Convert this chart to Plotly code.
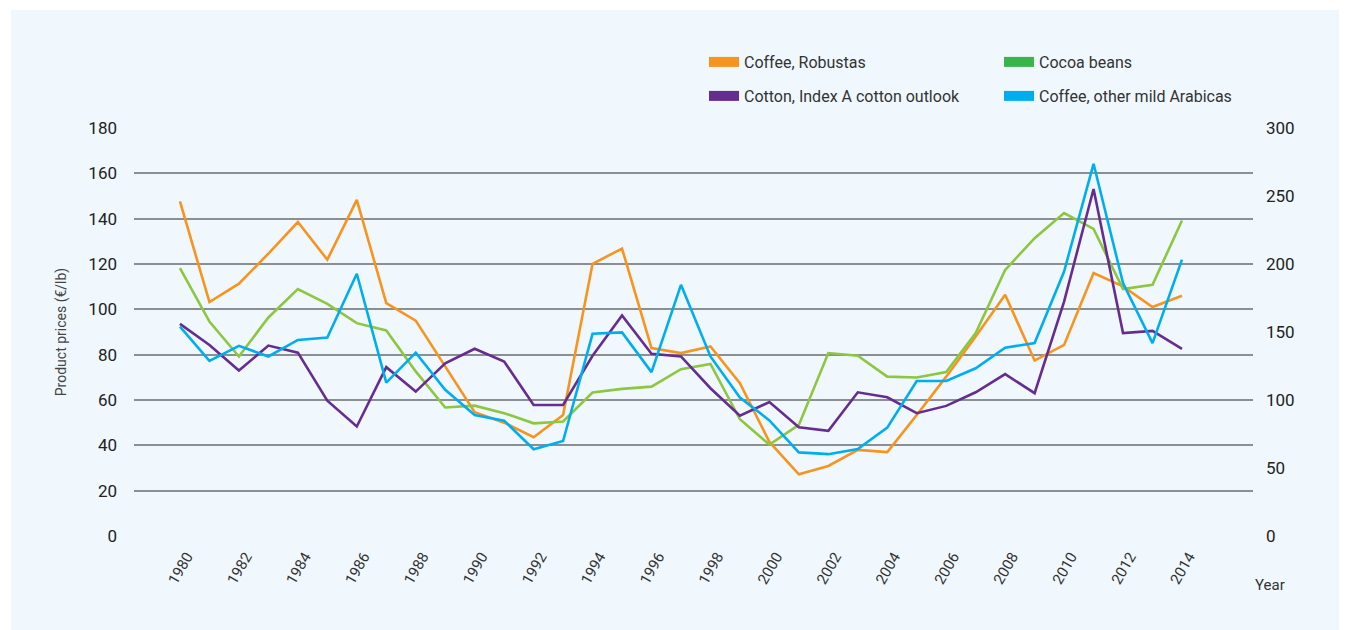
import plotly.graph_objects as go

years = list(range(1980, 2015))
tick_years = list(range(1980, 2015, 2))

robustas = [147.6, 103.2, 111.3, 124.6, 138.5, 121.9, 148.3, 102.7, 95.0, 75.0,
            54.6, 50.0, 43.6, 53.4, 120.1, 126.8, 82.9, 80.7, 83.6, 67.4,
            41.5, 27.2, 30.9, 38.0, 37.0, 53.4, 70.3, 88.0, 106.4, 77.4,
            84.3, 116.0, 110.1, 101.0, 106.0]
cocoa = [118.2, 94.6, 79.2, 96.4, 108.9, 102.4, 93.9, 90.7, 72.6, 56.7,
         57.5, 54.2, 49.7, 50.5, 63.3, 64.9, 65.9, 73.6, 75.9, 51.5,
         40.3, 49.0, 80.7, 79.5, 70.3, 69.9, 72.3, 89.5, 117.4, 131.4,
         142.5, 135.5, 108.9, 110.8, 139.2]
cotton = [93.6, 84.3, 73.0, 84.0, 80.9, 59.7, 48.3, 74.5, 63.7, 76.2,
          82.6, 77.0, 57.8, 57.8, 79.5, 97.3, 80.4, 79.2, 65.2, 53.1,
          59.1, 48.0, 46.4, 63.4, 61.2, 54.2, 57.4, 63.4, 71.4, 63.0,
          103.4, 153.1, 89.5, 90.5, 82.6]
arabicas = [92.4, 77.3, 83.9, 79.2, 86.5, 87.6, 115.7, 67.7, 80.9, 64.5,
            53.4, 50.9, 38.3, 41.9, 89.2, 89.8, 72.3, 110.8, 79.2, 61.1,
            51.0, 36.9, 36.1, 38.4, 47.8, 68.4, 68.4, 74.0, 83.1, 85.1,
            116.7, 164.2, 111.6, 85.1, 121.9]

left_ticks = list(range(0, 181, 20))
right_ticks = list(range(0, 301, 50))

# name, values, line colour, legend swatch colour, legend row
series = [
    ("Coffee, Robustas", robustas, "#F7941D", "#F7941D", "legend"),
    ("Cocoa beans", cocoa, "#8DC63F", "#3AB54A", "legend"),
    ("Cotton, Index A cotton outlook", cotton, "#662D91", "#662D91", "legend2"),
    ("Coffee, other mild Arabicas", arabicas, "#00AEEF", "#00AEEF", "legend2"),
]

FONT = "Roboto"
BG = "#F0F8FD"
L, R, T, B = 126, 102, 120, 102
PW, PH = 1347 - L - R, 630 - T - B

fig = go.Figure()
for name, vals, lc, sc, lg in series:
    fig.add_trace(go.Scatter(x=years, y=vals, mode="lines", name=name,
                             line=dict(color=lc, width=2.6),
                             showlegend=False, hoverinfo="x+y+name"))
# legend swatches (rectangular)
for name, vals, lc, sc, lg in series:
    fig.add_trace(go.Scatter(x=[None], y=[None], mode="lines", name=name,
                             line=dict(color=sc, width=11),
                             showlegend=True, legend=lg))
# dummy anchor so yaxis2 is rendered
fig.add_trace(go.Scatter(x=[None], y=[None], yaxis="y2", showlegend=False, hoverinfo="skip"))

leg_common = dict(orientation="h", x=(696 - L) / PW, xanchor="left", yanchor="middle",
                  yref="container", entrywidth=250, entrywidthmode="pixels",
                  font=dict(family=FONT, size=16, color="#333"),
                  bgcolor="rgba(0,0,0,0)", itemwidth=30)

fig.update_layout(
    width=1347, height=630,
    paper_bgcolor=BG,
    plot_bgcolor=BG,
    margin=dict(l=L, r=R, t=T, b=B, autoexpand=False),
    font=dict(family=FONT, color="#222"),
    showlegend=True,
    legend=dict(leg_common, y=1 - 54 / 630),
    legend2=dict(leg_common, y=1 - 88 / 630),
    xaxis=dict(range=[1978.44, 2016.41], tickvals=tick_years,
               ticktext=[str(y) for y in tick_years], tickangle=-60,
               showgrid=False, zeroline=False, showline=False,
               tickfont=dict(family=FONT, size=15, color="#333"),
               ticks="", ticklabelstandoff=8, ticklabelshift=7),
    yaxis=dict(range=[0, 180], tickvals=left_ticks, showgrid=True,
               gridcolor="#8A8F93", gridwidth=1.5, zeroline=False, showline=False,
               tickfont=dict(family=FONT, size=17, color="#222"),
               ticks="", ticklabelstandoff=16,
               title=dict(text="Product prices (€/lb)", standoff=18,
                          font=dict(family=FONT, size=14, color="#444"))),
    yaxis2=dict(range=[0, 300], tickvals=right_ticks, overlaying="y", side="right",
                showgrid=False, zeroline=False, showline=False,
                tickfont=dict(family=FONT, size=17, color="#222"),
                ticks="", ticklabelstandoff=12),
    shapes=[
        dict(type="rect", xref="paper", yref="paper", layer="below",
             x0=-L / PW, x1=1 + R / PW, y0=(630 - B - 2) / PH, y1=(630 - B) / PH,
             fillcolor="white", line=dict(width=0)),
        dict(type="rect", xref="paper", yref="paper", layer="below",
             x0=-L / PW, x1=(3 - L) / PW, y0=-B / PH, y1=(630 - B) / PH,
             fillcolor="white", line=dict(width=0)),
    ],
    annotations=[dict(text="Year", xref="paper", yref="paper", x=(1262 - L) / PW,
                      y=(630 - B - 577) / PH, xanchor="center", yanchor="middle", showarrow=False,
                      font=dict(family=FONT, size=15, color="#333"))],
)

fig.write_html("out.html")
